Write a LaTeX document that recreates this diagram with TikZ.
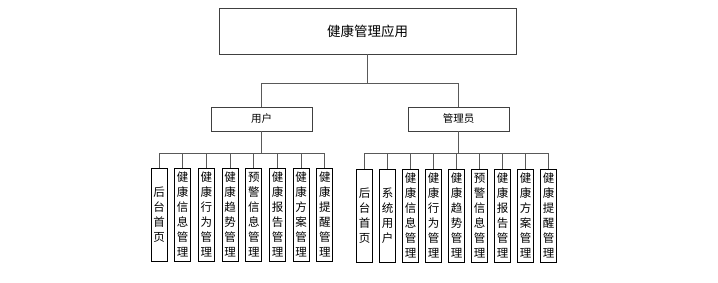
\documentclass[tikz,border=0pt]{standalone}
\usepackage{fontspec}
\newfontfamily\cjk{Noto Sans CJK SC}
\begin{document}
\begin{tikzpicture}[
  x=1pt, y=-1pt,
  font=\cjk,
  box/.style={draw=black!75, line width=0.9pt, minimum width=297pt, minimum height=46pt, font=\cjk\fontsize{13.5}{16}\selectfont},
  role/.style={draw=black!75, line width=0.9pt, minimum width=101pt, minimum height=24pt, font=\cjk\fontsize{10.5}{12}\selectfont},
  leaf/.style={draw=black, line width=0.9pt, minimum width=16pt, minimum height=93pt, inner sep=0pt, align=center, font=\cjk\fontsize{11.5}{15}\selectfont},
  link/.style={draw=black!65, line width=0.9pt}
]
  \useasboundingbox (0,0) rectangle (718,282);
  \node[box]  (app)   at (367.5,31)  {健康管理应用};
  \node[role] (user)  at (261.5,119) {用户};
  \node[role] (admin) at (458.5,119) {管理员};
  \draw[link] (app.south) -- ++(0,29) -| (user.north);
  \draw[link] (app.south) -- ++(0,29) -| (admin.north);
  % user side
  \foreach \t [count=\i] in {{后\\台\\首\\页}, {健\\康\\信\\息\\管\\理}, {健\\康\\行\\为\\管\\理}, {健\\康\\趋\\势\\管\\理},
                            {预\\警\\信\\息\\管\\理}, {健\\康\\报\\告\\管\\理}, {健\\康\\方\\案\\管\\理}, {健\\康\\提\\醒\\管\\理}}{
    \node[leaf] (u\i) at ({159+23.7*(\i-1)},214.5) {\t};
    \draw[link] (user.south) -- ++(0,21.5) -| (u\i.north);
  }
  % admin side
  \foreach \t [count=\i] in {{后\\台\\首\\页}, {系\\统\\用\\户}, {健\\康\\信\\息\\管\\理}, {健\\康\\行\\为\\管\\理}, {健\\康\\趋\\势\\管\\理},
                            {预\\警\\信\\息\\管\\理}, {健\\康\\报\\告\\管\\理}, {健\\康\\方\\案\\管\\理}, {健\\康\\提\\醒\\管\\理}}{
    \node[leaf] (a\i) at ({364.5+23*(\i-1)},215.5) {\t};
    \draw[link] (admin.south) -- ++(0,22) -| (a\i.north);
  }
\end{tikzpicture}
\end{document}
